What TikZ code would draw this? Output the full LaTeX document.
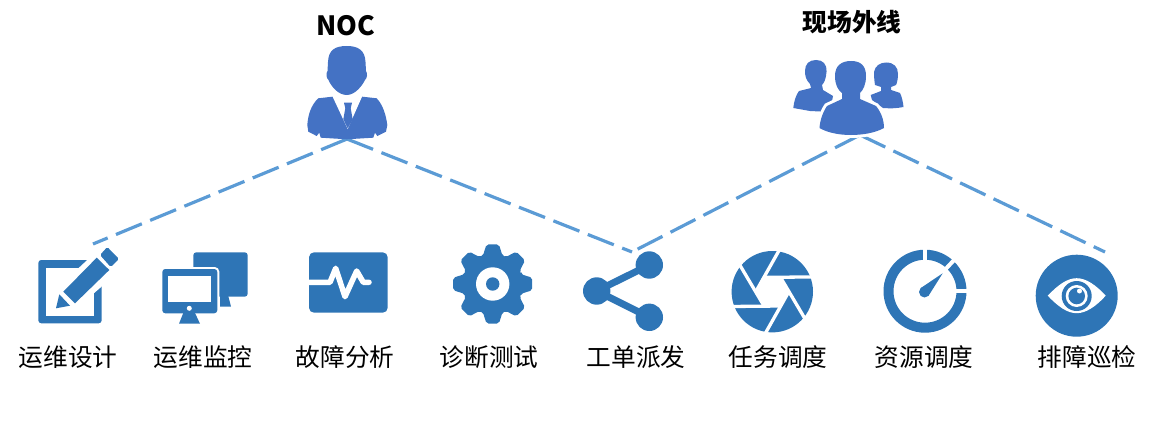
\documentclass[tikz,border=0pt]{standalone}
\usepackage{fontspec}
\setmainfont{Noto Sans CJK SC}
\usepackage{tikz}
\definecolor{iconblue}{HTML}{2E75B6}
\definecolor{personblue}{HTML}{4472C4}
\definecolor{linkblue}{HTML}{5B9BD5}
\tikzset{
    linkline/.style={linkblue,line width=3.2pt,dash pattern=on 28pt off 9pt},
    tasklabel/.style={font=\fontsize{24.7}{25}\selectfont,anchor=center,inner sep=0pt},
    rolelabel/.style={font=\fontsize{#1}{25}\selectfont\bfseries,anchor=center,inner sep=0pt},
    cutout/.style={preaction={draw=white,line width=#1}}
}
\begin{document}
\begin{tikzpicture}[x=1pt,y=-1pt]
    \useasboundingbox (0,0) rectangle (1154,428);
    \node[rolelabel=26.5] (noc) at (346,26) {NOC};
    \node[rolelabel=24.7] (field) at (852,22) {现场外线};
    \foreach \name/\x/\word in {design/68/运维设计,monitor/203/运维监控,fault/345/故障分析,test/489/诊断测试,ticket/636/工单派发,dispatch/778/任务调度,resource/924/资源调度,patrol/1087/排障巡检}{
      \node[tasklabel] (\name) at (\x,357) {\word};
    }
    \coordinate (nocfoot) at (347,139);
    \coordinate (fieldfoot) at (860,135);
    \coordinate (designend) at (93,244);
    \coordinate (ticketend) at (632,252);
    \coordinate (patrolend) at (1105,252);
    \draw[linkline] (nocfoot) -- (designend);
    \draw[linkline] (nocfoot) -- (ticketend);
    \draw[linkline] (fieldfoot) -- (ticketend);
    \draw[linkline] (fieldfoot) -- (patrolend);

    \fill[personblue] (346.7,46) .. controls (358,46) and (365,50) .. (365.5,62) -- (366,71) .. controls (367.5,73) and (367.5,78) .. (365,80) .. controls (362,86) and (355,95) .. (346.7,95) .. controls (338,95) and (331,86) .. (328.5,80) .. controls (326,78) and (326,73) .. (327.5,71) -- (328,62) .. controls (328.5,50) and (335,46) .. (346.7,46) -- cycle;
    \fill[personblue] (332.3,96.7) -- (318.3,98.3) .. controls (311,105) and (308,115) .. (307.3,125) -- (308.3,131.7) -- (316.7,136) -- (319.3,132.7) -- (320.7,137.7) -- (346.7,139.3) -- (373.3,137.7) -- (375,132.7) -- (377.3,136) -- (386,131.7) -- (387.3,125) .. controls (386,115) and (383,105) .. (376.7,98.3) -- (362.3,96.7) -- cycle;
    \fill[white] (332.3,96) -- (362.3,96) -- (347.7,129) -- cycle;
    \fill[personblue] (344,102.7) -- (352,102.7) -- (350.7,108.3) -- (352.7,119.3) -- (347.7,128.3) -- (343.3,119.3) -- (345.3,108.3) -- cycle;

    \fill[personblue] (816,60) .. controls (823,60) and (827,64) .. (826.5,72) .. controls (826,79) and (824,83) .. (822,85) -- (823,90) -- (833,96) -- (830,112) -- (810,111) -- (793.3,108) .. controls (794,101) and (796,95) .. (799,91) -- (811,88) -- (810,84) .. controls (806,80) and (805,76) .. (805,71) .. controls (805,64) and (809,60) .. (816,60) -- cycle;
    \fill[personblue] (886,62.5) .. controls (894,62.5) and (898,67) .. (898,74) .. controls (898,79) and (897,83) .. (896,85) -- (891,87) -- (891,90) -- (900,93) .. controls (902,97) and (903,102) .. (903.5,107) .. controls (896,108.5) and (890,108.5) .. (883,108) -- (872,100) -- (870.7,95) -- (881,91) -- (881,87) -- (875,85) .. controls (874,79) and (874,74) .. (874,72) .. controls (875,66) and (880,62.5) .. (886,62.5) -- cycle;
    \fill[personblue,cutout=6pt] (851,61) .. controls (861,61) and (866,66) .. (866,76) .. controls (866,85) and (863,90) .. (860,93) -- (860,99) -- (876,106) .. controls (881,112) and (884,120) .. (884,128) .. controls (875,133) and (862,135) .. (851,135) .. controls (840,135) and (828,133) .. (819.5,128) .. controls (820,120) and (823,112) .. (827,106) -- (842,99) -- (842,93) .. controls (838,90) and (835,85) .. (835,76) .. controls (835,66) and (841,61) .. (851,61) -- cycle;

    \fill[iconblue,rounded corners=3pt] (38.3,260) rectangle (101.7,323.3);
    \fill[white] (46,267.7) rectangle (94,316);
    \fill[white] (56,308.3) -- (55,290) -- (98,250) -- (122,269) -- (78,307) -- cycle;
    \fill[iconblue] (56,308.3) -- (59.3,294.3) -- (70,305.7) -- cycle;
    \fill[iconblue] (63.3,291.7) -- (96.7,257.7) -- (109.3,270) -- (75,303.3) -- cycle;
    \fill[iconblue,rounded corners=1.5pt] (100,255) -- (107.3,247) -- (119,259) -- (110.7,267) -- cycle;

    \fill[iconblue,rounded corners=3pt] (193.3,252.3) rectangle (247.7,296.7);
    \fill[iconblue] (220,296) -- (228.3,296) -- (231,306.7) -- (220,306.7) -- cycle;
    \fill[iconblue,cutout=4pt,rounded corners=3pt] (162.3,269) rectangle (217.3,313.3);
    \fill[white] (168.3,275.7) rectangle (210.7,302.3);
    \fill[white] (189.3,308.3) circle (2.5pt);
    \fill[iconblue] (183.3,313) -- (195,313) -- (200,323.7) -- (179,323.7) -- cycle;

    \fill[iconblue,rounded corners=5pt] (309,252.3) rectangle (387.7,312.7);
    \draw[white,line width=5.5pt,line join=round,line cap=round] (305,282.3) -- (330,282.3) -- (335.7,268.3) -- (345,296.7) -- (356.7,271) -- (363.3,282.3) -- (369,282.3);

    \begin{scope}[shift={(492.7,284)}]
      \fill[iconblue,rounded corners=2pt] (-19:30) \foreach \a in {0,45,...,315}{ -- (\a-19:30) -- (\a-9:40) -- (\a+9:40) -- (\a+19:30)} -- cycle;
      \fill[white] (0,0) circle (16.7pt);
      \fill[iconblue] (0,0) circle (6.7pt);
    \end{scope}

    \draw[iconblue,line width=7pt] (649.3,265) -- (596.7,291) -- (649.3,317.3);
    \foreach \cx/\cy in {649.3/265,596.7/291,649.3/317.3}{
      \fill[iconblue] (\cx,\cy) circle (13.7pt);
    }

    \begin{scope}[shift={(772.3,291.7)}]
      \fill[iconblue] (0,0) circle (40.7pt);
      \fill[white] (0:16.5) -- (60:16.5) -- (120:16.5) -- (180:16.5) -- (240:16.5) -- (300:16.5) -- cycle;
      \foreach \a in {0,60,...,300}{
        \draw[white,line width=3.3pt] (\a+240:16.5) -- (\a+339.4:42);
      }
    \end{scope}

    \begin{scope}[shift={(925,291.2)}]
      \draw[iconblue,line width=10pt] (0,0) circle (36.5pt);
      \foreach \a in {0,313,270}{
        \draw[white,line width=4pt] (\a:30) -- (\a:44);
      }
    \end{scope}
    \fill[iconblue] (924.5,292) circle (5.5pt);
    \fill[iconblue] (942.7,273.3) -- (928.5,295.8) -- (920.5,288.2) -- cycle;

    \fill[iconblue] (1076.7,295.7) circle (41pt);
    \fill[white] (1047.7,295.7) .. controls (1058,285) and (1067,278.2) .. (1076.7,278.2) .. controls (1086,278.2) and (1096,285) .. (1105.7,295.7) .. controls (1096,306.4) and (1086,313.2) .. (1076.7,313.2) .. controls (1067,313.2) and (1058,306.4) .. (1047.7,295.7) -- cycle;
    \fill[iconblue] (1076.7,296) circle (15pt);
    \fill[white] (1076.7,296) circle (11pt);
    \fill[iconblue] (1076.7,296) circle (8.3pt);
    \fill[white] (1079.5,291) circle (2.5pt);
\end{tikzpicture}
\end{document}
